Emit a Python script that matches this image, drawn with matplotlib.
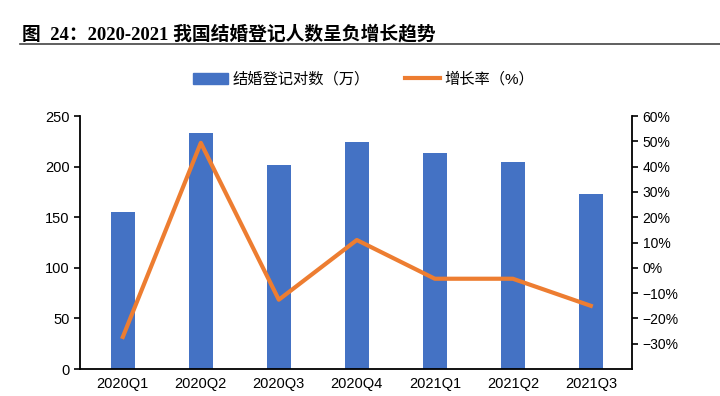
import matplotlib.pyplot as plt
from matplotlib.lines import Line2D

plt.rcParams['font.family'] = ['Liberation Sans', 'Noto Sans CJK SC']

# data
quarters = ['2020Q1', '2020Q2', '2020Q3', '2020Q4', '2021Q1', '2021Q2', '2021Q3']
marriages = [155, 233, 201.5, 224, 213, 204.5, 173]
growth = [-27.3, 49.4, -12.6, 11.0, -4.3, -4.3, -15.0]

fig = plt.figure(figsize=(7.2, 3.96), dpi=100)
ax = fig.add_axes([0.111, 0.068, 0.767, 0.639])

x = range(len(quarters))
ax.bar(x, marriages, width=0.3, color='#4472C4', label='结婚登记对数（万）')
ax.set_ylim(0, 250)
ax.set_yticks(range(0, 251, 50))
ax.set_xlim(-0.55, 6.53)
ax.set_xticks(list(x))
ax.set_xticklabels(quarters)
ax.tick_params(axis='x', length=0, labelsize=10.5, pad=6)
ax.tick_params(axis='y', labelsize=10.5, length=4, width=1.2)
ax.spines['top'].set_visible(False)
ax.spines['right'].set_visible(False)
ax.spines['left'].set_linewidth(1.3)
ax.spines['bottom'].set_linewidth(1.3)

ax2 = ax.twinx()
ax2.plot(list(x), growth, color='#ED7D31', linewidth=3, label='增长率（%）')
ax2.set_ylim(-40, 60)
ax2.set_yticks(range(-30, 61, 10))
ax2.set_yticklabels([f'{v}%'.replace('-', '\u2212') for v in range(-30, 61, 10)])
ax2.tick_params(axis='y', labelsize=10, length=4, width=1.2)
ax2.spines['top'].set_visible(False)
ax2.spines['left'].set_visible(False)
ax2.spines['bottom'].set_visible(False)
ax2.spines['right'].set_linewidth(1.3)

handles = [plt.Rectangle((0, 0), 1, 1, color='#4472C4'),
           Line2D([0], [0], color='#ED7D31', linewidth=3)]
fig.legend(handles, ['结婚登记对数（万）', '增长率（%）'], loc='center',
           bbox_to_anchor=(0.505, 0.80), ncol=2, frameon=False, fontsize=11,
           handlelength=2.3, columnspacing=2.3, handletextpad=0.3)

fig.text(0.03, 0.915, '图  24：2020-2021 我国结婚登记人数呈负增长趋势',
         fontsize=13.5, fontweight='bold',
         family=['Liberation Serif', 'Noto Sans CJK SC'], va='center')
fig.add_artist(Line2D([0.028, 1.0], [0.888, 0.888], color='#444444', linewidth=1.2))

fig.savefig('out.png', dpi=100)
